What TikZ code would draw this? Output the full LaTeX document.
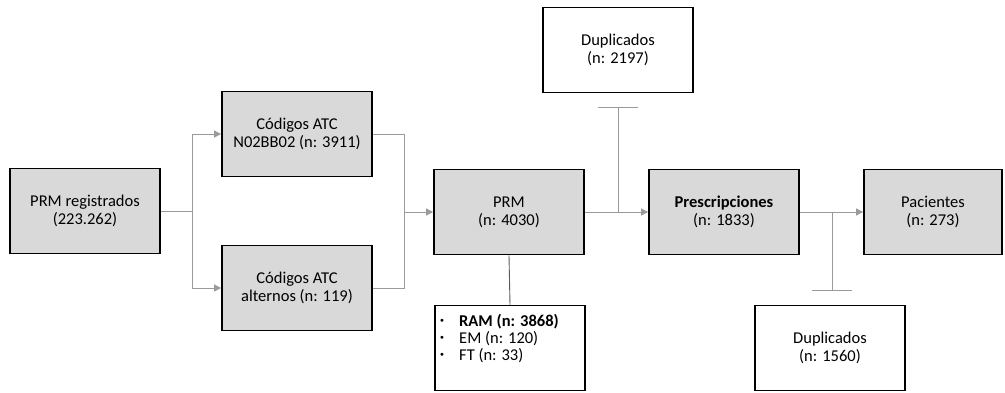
\documentclass[tikz,border=0pt]{standalone}
\usepackage{fontspec}
\setmainfont{Carlito}
\newfontfamily\symfont{DejaVu Sans}
\usetikzlibrary{arrows.meta}
\definecolor{boxfill}{HTML}{D9D9D9}
\definecolor{conn}{HTML}{9A9A9A}
\tikzset{
  graybox/.style={draw=black, line width=1.8pt, fill=boxfill, minimum width=150pt, minimum height=85pt, align=center, font=\fontsize{16.5}{18}\selectfont, inner sep=0pt},
  whitebox/.style={draw=black, line width=1.2pt, fill=white, minimum width=150pt, minimum height=85pt, align=center, font=\fontsize{16.5}{18}\selectfont, inner sep=0pt},
  bullet/.style={inner sep=0pt, font=\symfont\fontsize{10}{10}\selectfont},
  itemtext/.style={anchor=west, inner sep=0pt, font=\fontsize{16.5}{18}\selectfont},
  conline/.style={draw=conn, line width=0.9pt},
  conarrow/.style={conline, -{Triangle[length=7pt,width=7pt]}},
}
\begin{document}
\begin{tikzpicture}[x=1pt,y=-1pt]
\useasboundingbox (0,0) rectangle (1005,392);
\node[graybox] (reg) at (85,211) {PRM registrados\\(223.262)};
\node[graybox] (atc1) at (297,134) {Códigos ATC\\N02BB02 (n: 3911)};
\node[graybox] (atc2) at (297,288) {Códigos ATC\\alternos (n: 119)};
\node[graybox] (prm) at (509,212) {PRM\\(n: 4030)};
\node[whitebox] (dup1) at (618,50) {Duplicados\\(n: 2197)};
\node[graybox] (pres) at (724,212) {\textbf{Prescripciones}\\(n: 1833)};
\node[graybox, minimum width=138pt] (pac) at (933,212) {Pacientes\\(n: 273)};
\node[whitebox] (dup2) at (830,348) {Duplicados\\(n: 1560)};
\node[whitebox] (list) at (510,348) {};
\node[bullet] (b1m) at (442,322) {•};
\node[bullet] (b2m) at (442,339) {•};
\node[bullet] (b3m) at (442,356) {•};
\node[itemtext] (i1) at (459,322) {\textbf{RAM (n: 3868)}};
\node[itemtext] (i2) at (459,339) {EM (n: 120)};
\node[itemtext] (i3) at (459,356) {FT (n: 33)};
% splits
\coordinate (s1) at (192,211);
\draw[conline] (reg.east) -- (s1);
\draw[conarrow] (s1) |- (atc1.west);
\draw[conarrow] (s1) |- (atc2.west);
\coordinate (j1) at (404,212);
\draw[conline] (atc1.east) -| (j1);
\draw[conline] (atc2.east) -| (j1);
\draw[conarrow] (j1) -- (prm.west);
% PRM to prescripciones
\draw[conarrow] (prm.east) -- (pres.west);
\coordinate (c1) at (618,212);
\coordinate (t1) at (618,107);
\coordinate (t1l) at (598,107);
\coordinate (t1r) at (638,107);
\draw[conline] (c1) -- (t1);
\draw[conline] (t1l) -- (t1r);
% prescripciones to pacientes
\draw[conarrow] (pres.east) -- (pac.west);
\coordinate (c2) at (832,212);
\coordinate (t2) at (832,290);
\coordinate (t2l) at (812,290);
\coordinate (t2r) at (852,290);
\draw[conline] (c2) -- (t2);
\draw[conline] (t2l) -- (t2r);
% PRM to list
\draw[draw=black!65, line width=0.9pt] (prm.south) -- (list.north);
\end{tikzpicture}
\end{document}
